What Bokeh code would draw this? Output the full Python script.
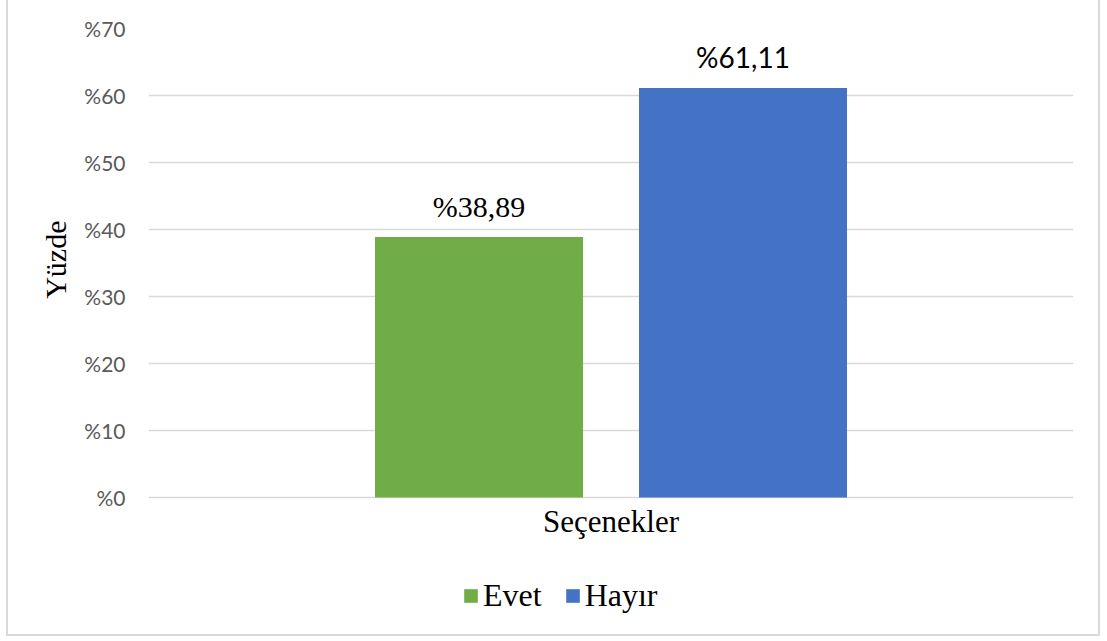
from bokeh.plotting import figure
from bokeh.models import (ColumnDataSource, FactorRange, Range1d, Legend, LegendItem,
                          FixedTicker, Label, Title)
from bokeh.embed import file_html
from bokeh.resources import INLINE

# ---- data ----
categories = ["Evet", "Hayır"]
percentages = [38.89, 61.11]
bar_labels = ["%38,89", "%61,11"]
bar_colors = ["#70AD47", "#4472C4"]
label_fonts = ["Liberation Serif", "Lato"]
label_sizes = ["30px", "28px"]
y_ticks = [0, 10, 20, 30, 40, 50, 60, 70]
y_tick_labels = ["%0", "%10", "%20", "%30", "%40", "%50", "%60", "%70"]
x_title = "Seçenekler"
y_title = "Yüzde"

W, H = 1094, 636

src = ColumnDataSource(dict(cat=categories, val=percentages, lab=bar_labels,
                            color=bar_colors, font=label_fonts, size=label_sizes))

x_range = FactorRange(factors=categories, range_padding=0.752,
                      range_padding_units="absolute", factor_padding=0.0)

# plot frame extends to the bottom of the chart box; value axis 0..70 sits in its upper part
p = figure(width=W, height=H, x_range=x_range, y_range=Range1d(-20.75, 70),
           x_axis_location=None,
           output_backend="svg", toolbar_location=None,
           min_border_left=140, min_border_right=29, min_border_top=28,
           min_border_bottom=0)
p.styles = {"border": "2px solid #D9D9D9", "border-top": "none",
            "margin-left": "6px"}

p.outline_line_color = None
p.background_fill_color = "white"
p.border_fill_color = "white"

r = p.vbar(x="cat", top="val", width=0.788, fill_color="color", line_color=None, source=src)

p.text(x="cat", y="val", text="lab", text_font="font", text_font_size="size",
       text_align="center", text_baseline="bottom", text_color="#000000",
       y_offset=-14, source=src)

# y axis
p.yaxis.ticker = FixedTicker(ticks=y_ticks)
p.yaxis.major_label_overrides = {t: l for t, l in zip(y_ticks, y_tick_labels)}
p.yaxis.major_label_text_font = "Lato"
p.yaxis.major_label_text_font_size = "21px"
p.yaxis.major_label_text_color = "#595959"
p.yaxis.major_tick_line_color = None
p.yaxis.minor_tick_line_color = None
p.yaxis.axis_line_color = None
p.yaxis.major_label_standoff = 17

p.add_layout(Title(text=y_title, align="right", offset=192, standoff=20,
                   text_font="Liberation Serif", text_font_style="normal",
                   text_font_size="30px", text_color="#000000"), "left")

p.xgrid.grid_line_color = None
p.ygrid.grid_line_color = "#D9D9D9"
p.ygrid.grid_line_width = 1.5

# category-axis title below the zero line
p.add_layout(Label(x=1.0, y=0, y_offset=-24, text=x_title, text_align="center",
                   text_baseline="alphabetic", text_font="Liberation Serif",
                   text_font_size="31px", text_color="#000000"))

legend = Legend(items=[LegendItem(label=categories[i], renderers=[r], index=i) for i in range(2)],
                orientation="horizontal", location=(314, 22),
                label_text_font="Liberation Serif", label_text_font_size="32px",
                label_text_color="#000000", glyph_width=17, glyph_height=17,
                label_standoff=4, spacing=22, padding=0, margin=0,
                border_line_color=None, background_fill_alpha=0)
p.add_layout(legend, "center")

open("out.html", "w").write(file_html(p, INLINE))
